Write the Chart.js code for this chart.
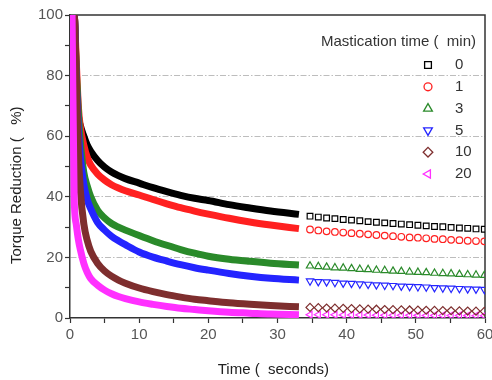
<!DOCTYPE html>
<html>
<head>
<meta charset="utf-8">
<script src="https://cdn.jsdelivr.net/npm/chart.js@4.4.0/dist/chart.umd.min.js"></script>
<style>
  html, body { margin: 0; padding: 0; background: #fff; }
  #wrap { width: 492px; height: 380px; }
</style>
</head>
<body>
<div id="wrap"><canvas id="chart" width="492" height="380"></canvas></div>
<script>
// mastication times (legend)
const mastication = ["0", "1", "3", "5", "10", "20"];
const colors = ["#000000", "#ff2020", "#2a8a2a", "#2424ff", "#7e2e2e", "#ff30ff"];

// dense part of the curves (0 - 33 s)
const denseTime = [0.3, 0.6, 0.9, 1.2, 1.5, 2, 2.5, 3, 4, 5, 6, 7, 8, 10, 12, 14, 16, 18, 20, 23, 26, 29, 33.1];
const dense0  = [100, 100, 80, 67, 63.5, 60, 57, 55, 52, 49.8, 48.2, 47, 46, 44.5, 43, 41.7, 40.5, 39.5, 38.8, 37.4, 36.3, 35.3, 34.2];
const dense1  = [100, 100, 85, 70, 63, 57, 53, 50.5, 47.5, 45.5, 44, 42.9, 42, 40.6, 39.1, 37.7, 36.4, 35.3, 34.3, 32.9, 31.7, 30.7, 29.5];
const dense3  = [100, 100, 82, 68, 58, 48, 43.5, 40, 35.5, 33, 31.2, 30, 29, 27.2, 25.5, 24, 22.6, 21.4, 20.4, 19.4, 18.7, 18.1, 17.5];
const dense5  = [100, 100, 78, 62, 53, 44, 39, 36, 31.5, 29, 27, 25.5, 24.2, 21.8, 20.1, 18.8, 17.6, 16.6, 15.8, 14.7, 13.8, 13.1, 12.5];
const dense10 = [100, 100, 80, 55, 42, 31, 25.5, 22, 18, 15.5, 13.8, 12.5, 11.5, 9.9, 8.7, 7.7, 6.9, 6.2, 5.7, 5.0, 4.5, 4.1, 3.7];
const dense20 = [100, 40, 31, 26, 22.5, 18, 15, 13, 10.8, 9.2, 8, 7.1, 6.4, 5.3, 4.5, 3.8, 3.2, 2.8, 2.4, 1.9, 1.6, 1.3, 1.1];

// sparse markers (34 - 60 s)
const sparseTime = [34.7, 35.9, 37.1, 38.3, 39.5, 40.7, 41.9, 43.1, 44.3, 45.5, 46.7, 47.9, 49.1, 50.3, 51.5, 52.7, 53.9, 55.1, 56.3, 57.5, 58.7, 59.9];
const sparse0  = [33.6, 33.3, 33.0, 32.8, 32.5, 32.3, 32.1, 31.8, 31.6, 31.4, 31.2, 31.0, 30.8, 30.6, 30.4, 30.2, 30.1, 29.9, 29.7, 29.6, 29.4, 29.3];
const sparse1  = [29.2, 28.9, 28.6, 28.4, 28.2, 28.0, 27.8, 27.6, 27.4, 27.2, 27.0, 26.8, 26.6, 26.5, 26.3, 26.1, 26.0, 25.8, 25.7, 25.5, 25.4, 25.3];
const sparse3  = [17.2, 17.0, 16.8, 16.6, 16.5, 16.3, 16.1, 16.0, 15.8, 15.7, 15.5, 15.4, 15.2, 15.1, 15.0, 14.8, 14.7, 14.6, 14.4, 14.3, 14.2, 14.1];
const sparse5  = [12.2, 12.0, 11.9, 11.7, 11.5, 11.4, 11.2, 11.1, 10.9, 10.8, 10.7, 10.5, 10.4, 10.3, 10.2, 10.0, 9.9, 9.8, 9.7, 9.6, 9.5, 9.4];
const sparse10 = [3.5, 3.4, 3.3, 3.25, 3.2, 3.1, 3.0, 2.95, 2.9, 2.8, 2.75, 2.7, 2.65, 2.6, 2.55, 2.5, 2.45, 2.4, 2.35, 2.3, 2.25, 2.2];
const sparse20 = [1.1, 1.08, 1.06, 1.04, 1.02, 1.0, 0.98, 0.96, 0.94, 0.92, 0.9, 0.89, 0.88, 0.86, 0.85, 0.84, 0.82, 0.81, 0.8, 0.78, 0.77, 0.76];

const yTicks = [0, 20, 40, 60, 80, 100];
const xTicks = [0, 10, 20, 30, 40, 50, 60];

const denseSets = [dense0, dense1, dense3, dense5, dense10, dense20];
const sparseSets = [sparse0, sparse1, sparse3, sparse5, sparse10, sparse20];
const styles = ["rect", "circle", "triangle", "triangle", "rectRot", "triangle"];
const rotations = [0, 0, 0, 180, 0, 270];
const radii = [4, 3.3, 4.2, 4.2, 4, 4];

const FONT = '"Liberation Sans", Arial, sans-serif';

const toPoints = (xs, ys) => xs.map((x, i) => ({ x: x, y: ys[i] }));

const datasets = [];
// lower curves pushed first
for (let i = 5; i >= 0; i--) {
    datasets.push({
        label: mastication[i] + "-dense",
        data: toPoints(denseTime, denseSets[i]),
        showLine: true,
        borderColor: colors[i],
        borderWidth: 7,
        pointRadius: 0,
        cubicInterpolationMode: "monotone",
        borderCapStyle: "butt"
    });
}
for (let i = 0; i < 6; i++) {
    datasets.push({
        label: mastication[i],
        data: toPoints(sparseTime, sparseSets[i]),
        showLine: false,
        pointStyle: styles[i],
        rotation: rotations[i],
        pointRadius: radii[i],
        pointBorderWidth: 1.2,
        pointBorderColor: colors[i],
        pointBackgroundColor: "rgba(0,0,0,0)"
    });
}

const frame = {
    id: "frame",
    beforeDatasetsDraw(chart) {
        const { ctx, chartArea: a } = chart;
        ctx.save();
        ctx.strokeStyle = "#333";
        ctx.lineWidth = 1.5;
        ctx.beginPath();
        ctx.moveTo(a.left, a.top);
        ctx.lineTo(a.right, a.top);
        ctx.lineTo(a.right, a.bottom);
        ctx.stroke();
        ctx.restore();
    }
};

const legendBox = {
    id: "legendBox",
    afterDraw(chart) {
        const ctx = chart.ctx;
        ctx.save();
        ctx.font = "15px " + FONT;
        ctx.textBaseline = "middle";
        ctx.fillStyle = "#333";
        ctx.textAlign = "right";
        ctx.fillText("Mastication time (  min)", 476, 42);
        mastication.forEach((lab, i) => {
            const y = 65 + i * 21.8;
            ctx.strokeStyle = colors[i];
            ctx.lineWidth = 1.3;
            ctx.fillStyle = "rgba(0,0,0,0)";
            Chart.helpers.drawPoint(ctx, {
                pointStyle: styles[i],
                rotation: rotations[i],
                radius: radii[i] * 1.2,
                borderWidth: 1.3
            }, 428, y);
            ctx.fillStyle = "#333";
            ctx.textAlign = "left";
            ctx.fillText(lab, 455, y);
        });
        ctx.restore();
    }
};

new Chart(document.getElementById("chart"), {
    type: "scatter",
    data: { datasets: datasets },
    plugins: [frame, legendBox],
    options: {
        responsive: false,
        animation: false,
        devicePixelRatio: 1,
        layout: { padding: { top: 15, right: 7, left: 0, bottom: 0 } },
        plugins: { legend: { display: false }, tooltip: { enabled: false } },
        scales: {
            x: {
                type: "linear",
                min: 0,
                max: 60,
                afterFit(scale) { scale.height = 62; scale.paddingLeft = 0; scale.paddingRight = 0; },
                ticks: {
                    stepSize: 5,
                    autoSkip: false,
                    maxRotation: 0,
                    padding: 3,
                    color: "#555",
                    font: { family: FONT, size: 15 },
                    callback: v => xTicks.includes(v) ? String(v) : ""
                },
                grid: { drawOnChartArea: false, tickLength: 5, tickColor: "#333", tickWidth: 1.2 },
                border: { color: "#333", width: 1.5 },
                title: {
                    display: true,
                    text: "Time (  seconds)  ",
                    color: "#222",
                    font: { family: FONT, size: 15 },
                    padding: { top: 0, bottom: 1 }
                }
            },
            y: {
                min: 0,
                max: 100,
                afterFit(scale) { scale.width = 70; scale.paddingTop = 0; scale.paddingBottom = 0; },
                ticks: {
                    stepSize: 10,
                    autoSkip: false,
                    padding: 2,
                    color: "#555",
                    font: { family: FONT, size: 15 },
                    callback: v => yTicks.includes(v) ? String(v) : ""
                },
                grid: {
                    color: c => (c.tick && [20, 40, 60, 80].includes(c.tick.value)) ? "#bdbdbd" : "rgba(0,0,0,0)",
                    lineWidth: 1,
                    tickLength: 5,
                    tickColor: "#333",
                    tickWidth: 1.2
                },
                border: { color: "#333", width: 1.5, dash: [6, 2, 1.5, 2] },
                title: {
                    display: true,
                    text: "Torque Reduction (   %)         ",
                    color: "#222",
                    font: { family: FONT, size: 15 },
                    padding: { top: 8, bottom: 0 }
                }
            }
        }
    }
});
</script>
</body>
</html>
